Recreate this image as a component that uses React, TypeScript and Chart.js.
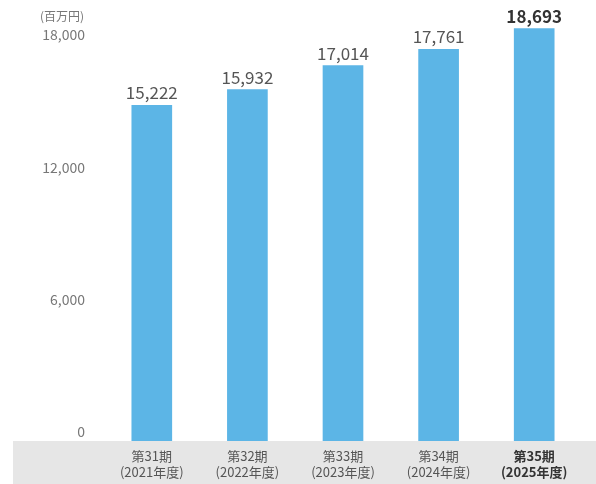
import React, { useEffect, useRef } from "react";
import { Chart, registerables } from "chart.js";

Chart.register(...registerables);

const periods = ["第31期", "第32期", "第33期", "第34期", "第35期"];
const years = ["(2021年度)", "(2022年度)", "(2023年度)", "(2024年度)", "(2025年度)"];
const values = [15222, 15932, 17014, 17761, 18693];
const yTicks = [0, 6000, 12000, 18000];
const unitLabel = "(百万円)";

const FONT = "'Noto Sans CJK JP', 'Noto Sans', sans-serif";

export default function App() {
  const ref = useRef<HTMLCanvasElement | null>(null);

  useEffect(() => {
    if (!ref.current) return;
    const labels = periods.map((p, i) => [p, years[i]]);

    const bandPlugin = {
      id: "band",
      beforeDraw(chart: any) {
        const { ctx, chartArea, width, height } = chart;
        ctx.save();
        ctx.fillStyle = "#e6e6e6";
        ctx.fillRect(13, chartArea.bottom, width - 13, height - chartArea.bottom);
        ctx.restore();
      },
    };

    const labelPlugin = {
      id: "valueLabels",
      afterDatasetsDraw(chart: any) {
        const { ctx } = chart;
        const meta = chart.getDatasetMeta(0);
        ctx.save();
        ctx.textAlign = "center";
        ctx.textBaseline = "bottom";
        meta.data.forEach((bar: any, i: number) => {
          const last = i === values.length - 1;
          ctx.font = `${last ? "bold " : ""}17px ${FONT}`;
          ctx.fillStyle = last ? "#333" : "#555";
          ctx.fillText(values[i].toLocaleString("en-US"), bar.x, bar.y - 4);
        });
        const yScale = chart.scales.y;
        ctx.font = `12px ${FONT}`;
        ctx.fillStyle = "#777";
        ctx.textAlign = "right";
        ctx.textBaseline = "middle";
        ctx.fillText(unitLabel, yScale.right - 20, 16);
        ctx.restore();
      },
    };

    const chart = new Chart(ref.current, {
      type: "bar",
      data: {
        labels,
        datasets: [
          {
            data: values,
            backgroundColor: "#5cb5e6",
            barThickness: 40,
          },
        ],
      },
      options: {
        animation: false,
        responsive: false,
        layout: { padding: { top: 10, right: 14, left: 0, bottom: 0 } },
        plugins: {
          legend: { display: false },
          tooltip: { enabled: false },
        },
        scales: {
          x: {
            grid: { display: false, drawTicks: false },
            border: { display: false },
            afterFit: (s: any) => {
              s.height = 43;
            },
            ticks: {
              padding: 7,
              autoSkip: false,
              maxRotation: 0,
              color: (ctx: any) => (ctx.index === 4 ? "#333" : "#555"),
              font: (ctx: any) => ({
                family: FONT,
                size: 13,
                weight: ctx.index === 4 ? "bold" : "normal",
                lineHeight: 1.25,
              }),
            },
          },
          y: {
            min: 0,
            max: 18750,
            grid: { display: false, drawTicks: false },
            border: { display: false },
            afterFit: (s: any) => {
              s.width = 104;
            },
            afterBuildTicks: (s: any) => {
              s.ticks = yTicks.map((v) => ({ value: v }));
            },
            ticks: {
              padding: 19,
              labelOffset: -9,
              color: "#777",
              font: { family: FONT, size: 14 },
              callback: (v: any) => Number(v).toLocaleString("en-US"),
            },
          },
        },
      },
      plugins: [bandPlugin, labelPlugin],
    });
    return () => chart.destroy();
  }, []);

  return (
    <div style={{ position: "absolute", left: 0, top: 0, width: 596, height: 484, background: "#fff" }}>
      <canvas ref={ref} width={596} height={484} />
    </div>
  );
}
